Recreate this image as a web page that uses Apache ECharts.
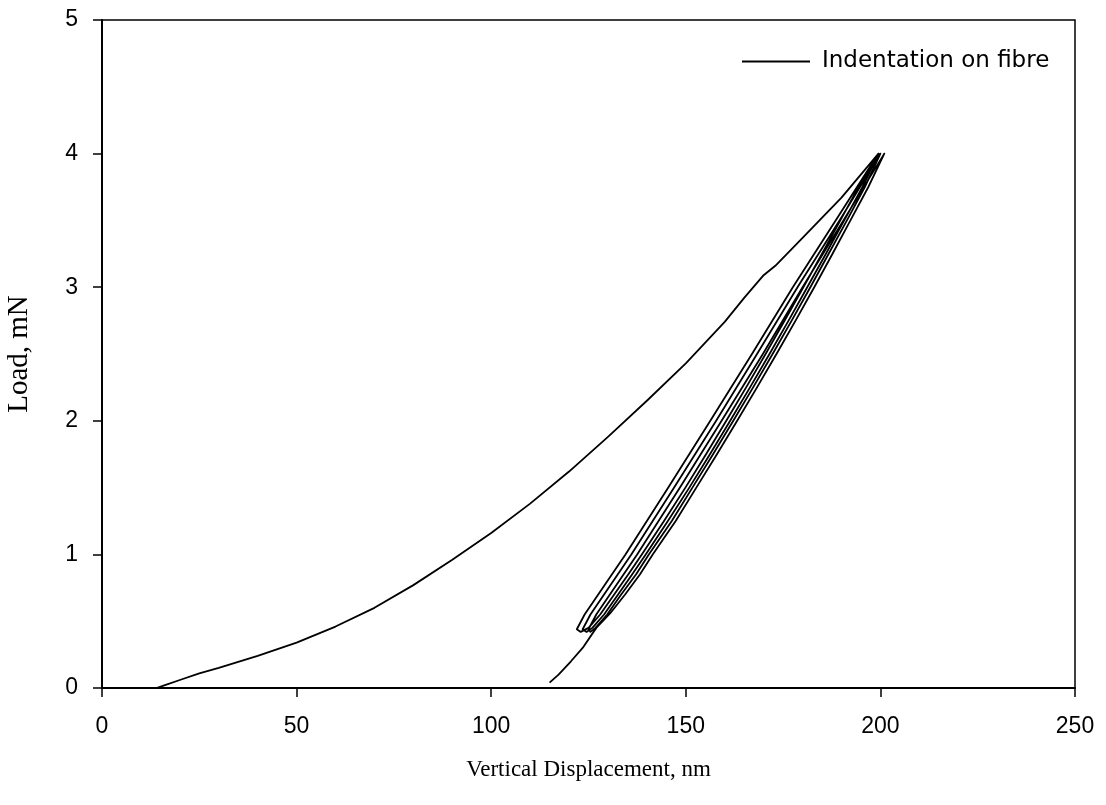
<!DOCTYPE html>
<html>
<head>
<meta charset="utf-8">
<script src="https://cdn.jsdelivr.net/npm/echarts@6/dist/echarts.min.js"></script>
<style>html,body{margin:0;padding:0;background:#fff;}#chart{width:1106px;height:805px;}</style>
</head>
<body>
<div id="chart"></div>
<script>
// Axis ticks
const xTicks = [0, 50, 100, 150, 200, 250];
const yTicks = [0, 1, 2, 3, 4, 5];
const seriesName = 'Indentation on fibre';

// Loading branch [displacement nm, load mN]
const loading = [[14,0],[16,0.02],[20,0.06],[25,0.11],[30,0.15],[40,0.24],[50,0.34],[60,0.46],[70,0.6],[80,0.77],[90,0.96],[100,1.16],[110,1.38],[120,1.62],[130,1.88],[140,2.15],[150,2.43],[160,2.74],[165,2.92],[170,3.09],[173,3.16],[180,3.37],[190,3.67],[199.5,4.0]];
// Unload / reload cycles
const unload1 = [[199,4.0],[194.4,3.75],[189.7,3.5],[185,3.25],[180.2,3.0],[175.4,2.75],[170.5,2.5],[165.5,2.25],[160.4,2.0],[155.2,1.75],[149.9,1.5],[144.4,1.25],[138.7,1.0],[135.2,0.85],[131.6,0.7],[128,0.55],[125,0.45],[123,0.42],[122,0.44]];
const reload1 = [[122,0.44],[124,0.55],[134.5,1.0],[145.5,1.5],[156.3,2.0],[167,2.5],[177.5,3.0],[188.5,3.5],[199.5,4.0]];
const unload2 = [[200,4.0],[195.4,3.75],[190.7,3.5],[186,3.25],[181.2,3.0],[176.4,2.75],[171.5,2.5],[166.5,2.25],[161.4,2.0],[156.2,1.75],[150.9,1.5],[145.4,1.25],[139.7,1.0],[136.2,0.85],[132.6,0.7],[129,0.55],[126,0.45],[124.5,0.42],[123.5,0.44]];
const reload2 = [[123.5,0.44],[125.5,0.55],[136,1.0],[147,1.5],[157.8,2.0],[168.3,2.5],[178.7,3.0],[189.5,3.5],[200,4.0]];
const unload3 = [[200.5,4.0],[196,3.75],[191.4,3.5],[186.7,3.25],[182,3.0],[177.2,2.75],[172.3,2.5],[167.3,2.25],[162.2,2.0],[157,1.75],[151.7,1.5],[146.4,1.25],[140.5,1.0],[137.2,0.85],[133.4,0.7],[129.8,0.55],[126.8,0.45],[125.5,0.42],[125,0.44]];
const reload3 = [[125,0.44],[127,0.55],[137.5,1.0],[148.5,1.5],[159.2,2.0],[169.8,2.5],[180,3.0],[190.5,3.5],[201,4.0]];
const unloadFinal = [[201,4.0],[196.9,3.75],[192.3,3.5],[187.7,3.25],[183,3.0],[178.2,2.75],[173.3,2.5],[168.3,2.25],[163.2,2.0],[158,1.75],[152.7,1.5],[147.4,1.25],[141.5,1.0],[138.2,0.85],[134.4,0.7],[130.6,0.56],[127,0.45],[123.5,0.3],[120.5,0.2],[117.3,0.1],[115,0.04]];

const path = [].concat(loading, unload1, reload1, unload2, reload2, unload3, reload3, unloadFinal);

const chart = echarts.init(document.getElementById('chart'), null, {renderer: 'canvas'});
const labelFont = {color: '#000', fontFamily: 'Liberation Sans, Arial, sans-serif', fontSize: 23};
chart.setOption({
  animation: false,
  backgroundColor: '#fff',
  grid: {left: 102, right: 31, top: 20, bottom: 117, containLabel: false, outerBoundsMode: 'none', show: true, borderColor: '#000', borderWidth: 1.5, backgroundColor: 'transparent'},
  legend: {
    show: true, left: 737, top: 45, itemWidth: 68, itemHeight: 16,
    data: [{name: seriesName, icon: 'path://M0,0 L68,0 L68,2 L0,2 Z'}],
    textStyle: {color: '#000', fontFamily: 'DejaVu Sans, sans-serif', fontSize: 23, padding: [0,0,0,7]}
  },
  xAxis: {
    type: 'value', min: 0, max: 250, interval: 50,
    name: 'Vertical Displacement, nm', nameLocation: 'middle', nameGap: 70,
    nameTextStyle: {color: '#000', fontFamily: 'Liberation Serif, Times New Roman, serif', fontSize: 23},
    axisLine: {show: true, onZero: false, lineStyle: {color: '#000', width: 2}},
    axisTick: {show: true, inside: false, length: 9, lineStyle: {color: '#000', width: 1.5}},
    axisLabel: Object.assign({margin: 27, formatter: v => xTicks.includes(v) ? String(v) : ''}, labelFont),
    splitLine: {show: false}
  },
  yAxis: {
    type: 'value', min: 0, max: 5, interval: 1,
    name: 'Load, mN', nameLocation: 'middle', nameGap: 68,
    nameTextStyle: {color: '#000', fontFamily: 'Liberation Serif, Times New Roman, serif', fontSize: 29},
    axisLine: {show: true, onZero: false, lineStyle: {color: '#000', width: 2}},
    axisTick: {show: true, inside: false, length: 9, lineStyle: {color: '#000', width: 1.5}},
    axisLabel: Object.assign({margin: 24, formatter: v => yTicks.includes(v) ? String(v) : ''}, labelFont),
    splitLine: {show: false}
  },
  series: [{
    name: seriesName, type: 'line', data: path, showSymbol: false, symbol: 'none', smooth: false,
    lineStyle: {color: '#000', width: 1.8, join: 'round'}, itemStyle: {color: '#000'}
  }]
});
</script>
</body>
</html>
